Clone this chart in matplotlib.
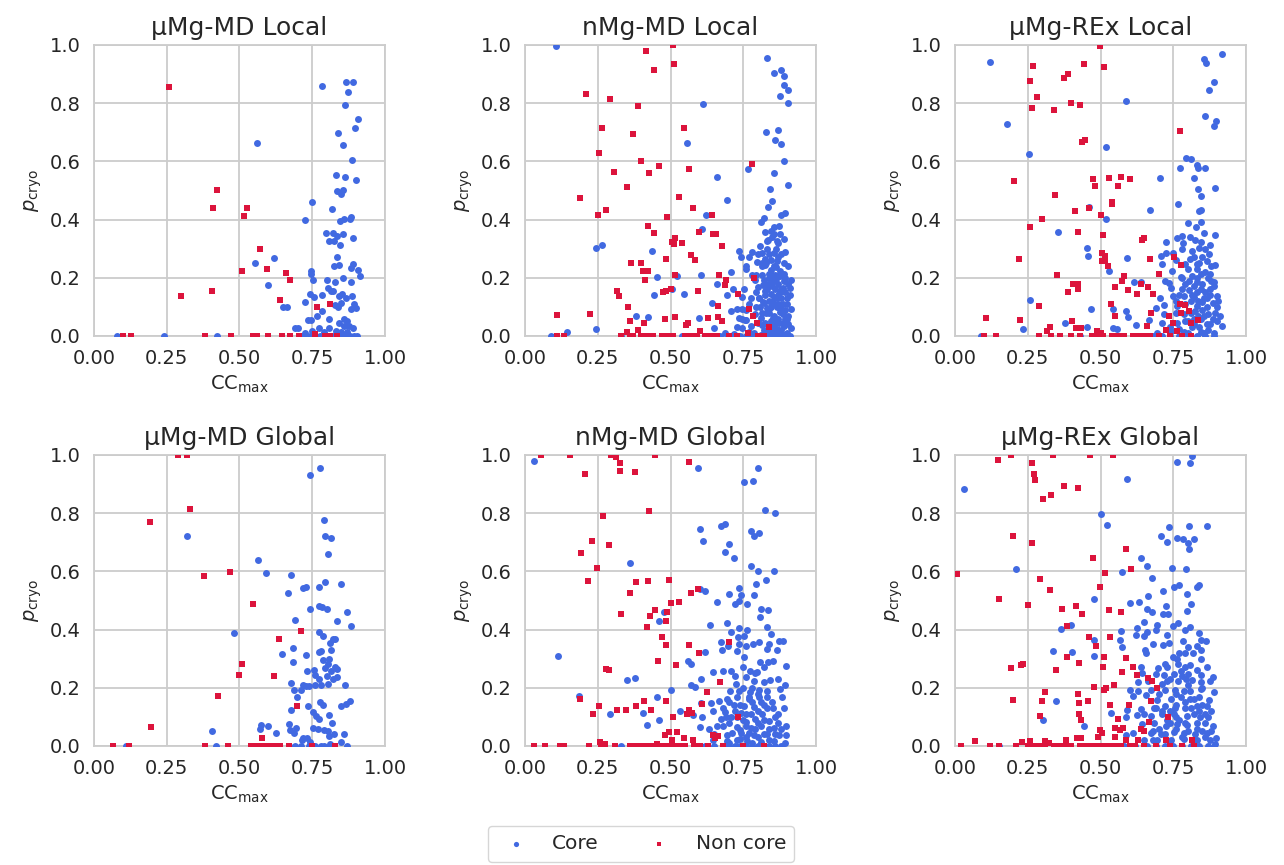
import matplotlib
matplotlib.use("Agg")
import matplotlib.pyplot as plt
import seaborn as sns

sns.set_theme(style="whitegrid")
plt.rcParams["font.family"] = ["DejaVu Sans"]

CORE_COLOR = "royalblue"
NON_COLOR = "crimson"

# ── data: (CC_max, p_cryo) pairs, *_floor = CC_max of points sitting on p_cryo = 0 ──

md_local_core = [
    (0.784, 0.860), (0.867, 0.872), (0.890, 0.872), (0.873, 0.840), (0.864, 0.794), (0.907, 0.745),
    (0.897, 0.716), (0.839, 0.697), (0.856, 0.657), (0.561, 0.664), (0.886, 0.606), (0.833, 0.552),
    (0.864, 0.548), (0.900, 0.537), (0.834, 0.499), (0.856, 0.500), (0.849, 0.489), (0.749, 0.462),
    (0.818, 0.438), (0.725, 0.399), (0.846, 0.395), (0.860, 0.401), (0.883, 0.408), (0.881, 0.401),
    (0.797, 0.354), (0.821, 0.353), (0.835, 0.345), (0.856, 0.351), (0.807, 0.328), (0.826, 0.328),
    (0.844, 0.313), (0.891, 0.336), (0.835, 0.272), (0.555, 0.252), (0.619, 0.269), (0.826, 0.241),
    (0.842, 0.243), (0.891, 0.249), (0.883, 0.232), (0.906, 0.226), (0.913, 0.207), (0.747, 0.224),
    (0.745, 0.213), (0.753, 0.192), (0.802, 0.192), (0.830, 0.185), (0.857, 0.200), (0.882, 0.184),
    (0.597, 0.175), (0.804, 0.164), (0.814, 0.155), (0.823, 0.155), (0.744, 0.144), (0.783, 0.140),
    (0.755, 0.134), (0.841, 0.136), (0.854, 0.144), (0.867, 0.130), (0.888, 0.138), (0.726, 0.117),
    (0.849, 0.114), (0.829, 0.107), (0.892, 0.109), (0.900, 0.095), (0.885, 0.091), (0.649, 0.101),
    (0.665, 0.098), (0.783, 0.085), (0.837, 0.098), (0.766, 0.067), (0.735, 0.056), (0.747, 0.055),
    (0.807, 0.057), (0.858, 0.060), (0.870, 0.052), (0.841, 0.045), (0.858, 0.034), (0.875, 0.034),
    (0.891, 0.026), (0.690, 0.026), (0.700, 0.029), (0.773, 0.026), (0.809, 0.026), (0.725, 0.010),
    (0.750, 0.017), (0.789, 0.015), (0.833, 0.017), (0.849, 0.015), (0.869, 0.013),
]
md_local_core_floor = [0.078, 0.239, 0.422, 0.72, 0.743, 0.76, 0.777, 0.80, 0.82, 0.84, 0.86, 0.869,
                       0.88, 0.892, 0.904]
md_local_non = [
    (0.258, 0.854), (0.422, 0.502), (0.408, 0.441), (0.526, 0.440), (0.517, 0.413), (0.571, 0.300),
    (0.510, 0.222), (0.594, 0.229), (0.661, 0.218), (0.672, 0.193), (0.300, 0.138), (0.405, 0.155),
    (0.641, 0.123), (0.768, 0.100), (0.812, 0.111), (0.758, 0.008),
]
md_local_non_floor = [0.101, 0.127, 0.380, 0.470, 0.548, 0.560, 0.597, 0.645, 0.674, 0.703, 0.795,
                      0.812, 0.835]

nmg_local_core = [
    (0.108, 0.997), (0.830, 0.956), (0.881, 0.913), (0.856, 0.902), (0.889, 0.892), (0.889, 0.861),
    (0.905, 0.847), (0.877, 0.823), (0.903, 0.802), (0.610, 0.798), (0.827, 0.700), (0.868, 0.707),
    (0.858, 0.675), (0.881, 0.660), (0.557, 0.662), (0.889, 0.600), (0.766, 0.574), (0.856, 0.560),
    (0.659, 0.548), (0.841, 0.506), (0.903, 0.520), (0.849, 0.464), (0.695, 0.466), (0.836, 0.443),
    (0.623, 0.417), (0.880, 0.417), (0.893, 0.424), (0.821, 0.405), (0.810, 0.390), (0.609, 0.366),
    (0.856, 0.376), (0.874, 0.378), (0.825, 0.357), (0.844, 0.362), (0.878, 0.351), (0.830, 0.328),
    (0.865, 0.328), (0.890, 0.334), (0.245, 0.302), (0.266, 0.314), (0.436, 0.293), (0.806, 0.310),
    (0.737, 0.293), (0.779, 0.287), (0.813, 0.286), (0.839, 0.282), (0.857, 0.285), (0.893, 0.290),
    (0.741, 0.270), (0.771, 0.270), (0.798, 0.255), (0.815, 0.252), (0.827, 0.252), (0.867, 0.259),
    (0.759, 0.231), (0.862, 0.236), (0.878, 0.224), (0.709, 0.220), (0.838, 0.213), (0.850, 0.207),
    (0.890, 0.213), (0.454, 0.202), (0.521, 0.205), (0.606, 0.208), (0.792, 0.191), (0.821, 0.192),
    (0.861, 0.195), (0.913, 0.194), (0.659, 0.178), (0.716, 0.163), (0.752, 0.160), (0.800, 0.167),
    (0.833, 0.161), (0.888, 0.166), (0.444, 0.140), (0.505, 0.161), (0.547, 0.144), (0.693, 0.140),
    (0.745, 0.134), (0.804, 0.130), (0.856, 0.134), (0.901, 0.132), (0.641, 0.114), (0.819, 0.116),
    (0.869, 0.109), (0.707, 0.086), (0.727, 0.094), (0.747, 0.092), (0.793, 0.098), (0.838, 0.092),
    (0.878, 0.084), (0.913, 0.092), (0.381, 0.068), (0.421, 0.066), (0.598, 0.063), (0.734, 0.061),
    (0.755, 0.054), (0.810, 0.063), (0.852, 0.061), (0.901, 0.057), (0.144, 0.015), (0.245, 0.023),
    (0.649, 0.026), (0.747, 0.029), (0.775, 0.034), (0.815, 0.038), (0.856, 0.029), (0.890, 0.034),
    (0.913, 0.029), (0.687, 0.011), (0.718, 0.008), (0.787, 0.011), (0.833, 0.015), (0.867, 0.008),
    (0.901, 0.010), (0.826, 0.245), (0.846, 0.225), (0.870, 0.180), (0.895, 0.150), (0.826, 0.140),
    (0.848, 0.118), (0.866, 0.100), (0.885, 0.075), (0.828, 0.078), (0.845, 0.050), (0.872, 0.045),
    (0.895, 0.060), (0.770, 0.110), (0.790, 0.075), (0.808, 0.100), (0.838, 0.120), (0.860, 0.160),
    (0.880, 0.130), (0.900, 0.110), (0.818, 0.175), (0.852, 0.190), (0.875, 0.205), (0.845, 0.260),
    (0.862, 0.300), (0.820, 0.020), (0.850, 0.012), (0.880, 0.020), (0.760, 0.055), (0.800, 0.045),
    (0.760, 0.240), (0.780, 0.210), (0.800, 0.280), (0.830, 0.300), (0.850, 0.340), (0.870, 0.270),
    (0.890, 0.250), (0.905, 0.180), (0.910, 0.140), (0.905, 0.070), (0.890, 0.005), (0.870, 0.060),
    (0.835, 0.180), (0.815, 0.210), (0.795, 0.150), (0.775, 0.130), (0.760, 0.090), (0.745, 0.060),
    (0.730, 0.030), (0.770, 0.015), (0.810, 0.005), (0.840, 0.080), (0.860, 0.110), (0.880, 0.160),
    (0.895, 0.200), (0.855, 0.240), (0.825, 0.265), (0.845, 0.145), (0.875, 0.095), (0.820, 0.115),
    (0.835, 0.010), (0.845, 0.030), (0.855, 0.070), (0.865, 0.130), (0.875, 0.150), (0.885, 0.110),
    (0.895, 0.090), (0.905, 0.040), (0.885, 0.045), (0.865, 0.025), (0.825, 0.045), (0.815, 0.080),
    (0.805, 0.130), (0.825, 0.155), (0.840, 0.200), (0.860, 0.210), (0.880, 0.280), (0.870, 0.320),
    (0.855, 0.350), (0.835, 0.330), (0.815, 0.240), (0.795, 0.210), (0.905, 0.240), (0.910, 0.165),
    (0.850, 0.170), (0.830, 0.095), (0.870, 0.140), (0.890, 0.190), (0.845, 0.100), (0.860, 0.045),
]
nmg_local_core_floor = [0.09, 0.33, 0.54, 0.56, 0.67, 0.70, 0.72, 0.74, 0.76, 0.78, 0.80, 0.82, 0.84,
                        0.86, 0.88, 0.90, 0.91]
nmg_local_non = [
    (0.508, 1.000), (0.416, 0.979), (0.513, 0.934), (0.443, 0.914), (0.210, 0.833), (0.292, 0.816),
    (0.389, 0.791), (0.263, 0.715), (0.545, 0.713), (0.372, 0.693), (0.253, 0.629), (0.399, 0.601),
    (0.459, 0.585), (0.306, 0.564), (0.427, 0.560), (0.563, 0.575), (0.780, 0.591), (0.349, 0.513),
    (0.190, 0.474), (0.529, 0.476), (0.280, 0.433), (0.251, 0.414), (0.577, 0.439), (0.489, 0.410),
    (0.644, 0.414), (0.423, 0.378), (0.442, 0.354), (0.516, 0.337), (0.505, 0.324), (0.511, 0.316),
    (0.540, 0.321), (0.599, 0.359), (0.647, 0.351), (0.656, 0.351), (0.678, 0.308), (0.571, 0.279),
    (0.584, 0.261), (0.484, 0.263), (0.365, 0.252), (0.398, 0.252), (0.405, 0.223), (0.421, 0.223),
    (0.412, 0.191), (0.516, 0.211), (0.665, 0.209), (0.692, 0.193), (0.686, 0.174), (0.787, 0.199),
    (0.317, 0.153), (0.323, 0.138), (0.475, 0.152), (0.484, 0.155), (0.503, 0.160), (0.596, 0.154),
    (0.731, 0.143), (0.353, 0.101), (0.663, 0.102), (0.771, 0.091), (0.111, 0.072), (0.225, 0.077),
    (0.360, 0.052), (0.408, 0.046), (0.482, 0.057), (0.517, 0.066), (0.630, 0.063), (0.663, 0.066),
    (0.678, 0.052), (0.782, 0.068), (0.796, 0.045), (0.838, 0.032), (0.553, 0.037), (0.560, 0.044),
    (0.388, 0.022), (0.350, 0.014), (0.600, 0.016), (0.766, 0.011),
]
nmg_local_non_floor = [0.11, 0.135, 0.33, 0.36, 0.37, 0.40, 0.42, 0.44, 0.47, 0.49, 0.50, 0.51, 0.55,
                       0.57, 0.59, 0.62, 0.64, 0.66, 0.70, 0.73, 0.80, 0.82]

rex_local_core = [
    (0.119, 0.940), (0.916, 0.968), (0.855, 0.952), (0.862, 0.939), (0.889, 0.872), (0.874, 0.844),
    (0.587, 0.809), (0.180, 0.730), (0.860, 0.756), (0.896, 0.740), (0.889, 0.721), (0.518, 0.649),
    (0.253, 0.626), (0.795, 0.611), (0.811, 0.608), (0.833, 0.586), (0.772, 0.576), (0.860, 0.576),
    (0.836, 0.578), (0.704, 0.544), (0.821, 0.544), (0.834, 0.505), (0.893, 0.508), (0.845, 0.482),
    (0.460, 0.444), (0.767, 0.453), (0.671, 0.434), (0.837, 0.428), (0.844, 0.433), (0.519, 0.402),
    (0.800, 0.389), (0.847, 0.392), (0.828, 0.376), (0.353, 0.357), (0.764, 0.336), (0.779, 0.345),
    (0.808, 0.341), (0.857, 0.355), (0.893, 0.346), (0.724, 0.322), (0.782, 0.318), (0.826, 0.330),
    (0.844, 0.324), (0.878, 0.314), (0.453, 0.301), (0.458, 0.276), (0.590, 0.269), (0.709, 0.276),
    (0.726, 0.286), (0.748, 0.286), (0.815, 0.291), (0.840, 0.302), (0.872, 0.282), (0.712, 0.247),
    (0.746, 0.224), (0.791, 0.247), (0.809, 0.264), (0.832, 0.249), (0.866, 0.259), (0.895, 0.245),
    (0.528, 0.224), (0.723, 0.190), (0.776, 0.201), (0.813, 0.207), (0.844, 0.213), (0.878, 0.213),
    (0.615, 0.186), (0.640, 0.186), (0.737, 0.182), (0.792, 0.177), (0.832, 0.184), (0.889, 0.186),
    (0.743, 0.166), (0.805, 0.157), (0.844, 0.161), (0.878, 0.161), (0.706, 0.131), (0.748, 0.137),
    (0.787, 0.138), (0.821, 0.134), (0.866, 0.132), (0.901, 0.138), (0.258, 0.124), (0.466, 0.094),
    (0.543, 0.091), (0.589, 0.086), (0.691, 0.097), (0.718, 0.107), (0.764, 0.103), (0.832, 0.103),
    (0.866, 0.098), (0.901, 0.098), (0.595, 0.066), (0.666, 0.054), (0.718, 0.075), (0.787, 0.075),
    (0.855, 0.069), (0.912, 0.069), (0.379, 0.043), (0.453, 0.032), (0.623, 0.038), (0.712, 0.046),
    (0.764, 0.043), (0.821, 0.040), (0.878, 0.040), (0.919, 0.033), (0.232, 0.023), (0.544, 0.029),
    (0.556, 0.025), (0.695, 0.011), (0.741, 0.017), (0.787, 0.015), (0.844, 0.015), (0.889, 0.011),
    (0.810, 0.120), (0.850, 0.118), (0.885, 0.115), (0.825, 0.085), (0.845, 0.060), (0.870, 0.075),
    (0.800, 0.050), (0.840, 0.030), (0.860, 0.150), (0.820, 0.170), (0.780, 0.160), (0.760, 0.120),
    (0.800, 0.230), (0.850, 0.270), (0.880, 0.190), (0.830, 0.230), (0.760, 0.260), (0.780, 0.300),
    (0.770, 0.140), (0.790, 0.110), (0.810, 0.080), (0.830, 0.150), (0.850, 0.180), (0.870, 0.200),
    (0.890, 0.170), (0.905, 0.120), (0.900, 0.050), (0.870, 0.020), (0.850, 0.090), (0.820, 0.060),
    (0.800, 0.010), (0.760, 0.080), (0.740, 0.030), (0.780, 0.200), (0.820, 0.270), (0.860, 0.300),
    (0.880, 0.240), (0.840, 0.250), (0.815, 0.140), (0.835, 0.120), (0.855, 0.130), (0.875, 0.140),
    (0.895, 0.080), (0.865, 0.040), (0.835, 0.070), (0.815, 0.030), (0.855, 0.010), (0.885, 0.060),
    (0.805, 0.190), (0.860, 0.220), (0.830, 0.200), (0.790, 0.050), (0.770, 0.025),
]
rex_local_core_floor = [0.09, 0.43, 0.63, 0.68, 0.71, 0.74, 0.77, 0.80, 0.83, 0.86, 0.89]
rex_local_non = [
    (0.497, 0.998), (0.269, 0.929), (0.444, 0.933), (0.513, 0.926), (0.259, 0.875), (0.374, 0.887),
    (0.389, 0.899), (0.281, 0.820), (0.266, 0.784), (0.339, 0.775), (0.397, 0.799), (0.429, 0.793),
    (0.774, 0.706), (0.435, 0.666), (0.447, 0.675), (0.203, 0.534), (0.475, 0.539), (0.480, 0.516),
    (0.529, 0.544), (0.572, 0.546), (0.603, 0.541), (0.561, 0.514), (0.342, 0.486), (0.538, 0.460),
    (0.538, 0.452), (0.460, 0.439), (0.411, 0.430), (0.500, 0.414), (0.299, 0.402), (0.256, 0.376),
    (0.421, 0.357), (0.509, 0.346), (0.642, 0.330), (0.651, 0.338), (0.506, 0.286), (0.514, 0.276),
    (0.505, 0.259), (0.517, 0.259), (0.526, 0.239), (0.671, 0.264), (0.751, 0.272), (0.775, 0.243),
    (0.221, 0.264), (0.349, 0.209), (0.582, 0.206), (0.573, 0.189), (0.701, 0.213), (0.405, 0.177),
    (0.421, 0.177), (0.423, 0.162), (0.388, 0.151), (0.551, 0.168), (0.594, 0.159), (0.638, 0.180),
    (0.664, 0.167), (0.627, 0.144), (0.681, 0.144), (0.289, 0.102), (0.535, 0.109), (0.551, 0.069),
    (0.772, 0.109), (0.791, 0.106), (0.776, 0.080), (0.805, 0.086), (0.736, 0.068), (0.750, 0.045),
    (0.834, 0.054), (0.812, 0.043), (0.675, 0.080), (0.108, 0.061), (0.223, 0.055), (0.401, 0.052),
    (0.325, 0.032), (0.316, 0.017), (0.416, 0.026), (0.433, 0.026), (0.659, 0.034), (0.726, 0.020),
    (0.763, 0.017), (0.487, 0.017), (0.502, 0.010),
]
rex_local_non_floor = [0.10, 0.14, 0.29, 0.33, 0.36, 0.40, 0.43, 0.47, 0.49, 0.51, 0.54, 0.56, 0.58,
                       0.61, 0.63, 0.65, 0.67, 0.70, 0.74, 0.78, 0.81]

md_global_core = [
    (0.778, 0.957), (0.742, 0.930), (0.791, 0.778), (0.795, 0.722), (0.815, 0.716), (0.805, 0.661),
    (0.318, 0.720), (0.563, 0.639), (0.592, 0.593), (0.678, 0.589), (0.794, 0.563), (0.775, 0.548),
    (0.850, 0.555), (0.717, 0.543), (0.728, 0.546), (0.666, 0.524), (0.741, 0.471), (0.774, 0.482),
    (0.783, 0.477), (0.800, 0.472), (0.868, 0.462), (0.690, 0.433), (0.835, 0.430), (0.884, 0.413),
    (0.481, 0.389), (0.774, 0.393), (0.788, 0.379), (0.821, 0.367), (0.830, 0.368), (0.810, 0.353),
    (0.683, 0.336), (0.646, 0.317), (0.772, 0.322), (0.781, 0.326), (0.814, 0.330), (0.729, 0.311),
    (0.683, 0.290), (0.788, 0.297), (0.808, 0.298), (0.806, 0.282), (0.794, 0.268), (0.830, 0.270),
    (0.835, 0.264), (0.814, 0.257), (0.757, 0.262), (0.733, 0.259), (0.761, 0.243), (0.773, 0.231),
    (0.800, 0.241), (0.822, 0.229), (0.835, 0.236), (0.677, 0.215), (0.720, 0.208), (0.729, 0.205),
    (0.740, 0.205), (0.760, 0.208), (0.779, 0.208), (0.805, 0.214), (0.861, 0.210), (0.689, 0.194),
    (0.710, 0.193), (0.697, 0.170), (0.778, 0.151), (0.786, 0.141), (0.737, 0.137), (0.849, 0.139),
    (0.867, 0.144), (0.881, 0.155), (0.678, 0.125), (0.753, 0.118), (0.763, 0.103), (0.774, 0.094),
    (0.807, 0.106), (0.669, 0.077), (0.819, 0.079), (0.573, 0.071), (0.569, 0.057), (0.597, 0.068),
    (0.674, 0.056), (0.696, 0.062), (0.752, 0.062), (0.771, 0.057), (0.789, 0.054), (0.806, 0.052),
    (0.405, 0.052), (0.624, 0.046), (0.689, 0.043), (0.807, 0.034), (0.826, 0.040), (0.860, 0.040),
    (0.720, 0.029), (0.732, 0.026), (0.714, 0.020), (0.743, 0.015), (0.849, 0.015), (0.812, 0.008),
]
md_global_core_floor = [0.11, 0.42, 0.55, 0.60, 0.63, 0.67, 0.69, 0.71, 0.74, 0.76, 0.78, 0.79, 0.81,
                        0.82, 0.87]
md_global_non = [
    (0.289, 1.000), (0.318, 1.000), (0.329, 0.815), (0.192, 0.769), (0.377, 0.584), (0.467, 0.599),
    (0.546, 0.487), (0.712, 0.395), (0.636, 0.366), (0.508, 0.280), (0.499, 0.244), (0.620, 0.240),
    (0.427, 0.171), (0.698, 0.137), (0.196, 0.064), (0.576, 0.029),
]
md_global_non_floor = [0.067, 0.12, 0.38, 0.46, 0.54, 0.56, 0.58, 0.60, 0.62, 0.64, 0.67, 0.75, 0.83]

nmg_global_core = [
    (0.032, 0.980), (0.596, 0.957), (0.802, 0.957), (0.753, 0.906), (0.784, 0.910), (0.826, 0.810),
    (0.858, 0.801), (0.673, 0.755), (0.688, 0.762), (0.603, 0.744), (0.776, 0.740), (0.805, 0.733),
    (0.786, 0.721), (0.610, 0.705), (0.702, 0.693), (0.686, 0.666), (0.717, 0.645), (0.360, 0.629),
    (0.776, 0.617), (0.800, 0.600), (0.854, 0.603), (0.829, 0.570), (0.795, 0.556), (0.737, 0.544),
    (0.603, 0.539), (0.620, 0.531), (0.700, 0.523), (0.742, 0.518), (0.788, 0.518), (0.661, 0.494),
    (0.723, 0.487), (0.736, 0.497), (0.764, 0.489), (0.810, 0.471), (0.834, 0.466), (0.806, 0.443),
    (0.479, 0.462), (0.459, 0.429), (0.635, 0.416), (0.694, 0.423), (0.735, 0.406), (0.763, 0.400),
    (0.830, 0.410), (0.708, 0.390), (0.847, 0.386), (0.731, 0.374), (0.752, 0.379), (0.673, 0.356),
    (0.698, 0.345), (0.737, 0.351), (0.759, 0.343), (0.784, 0.351), (0.804, 0.359), (0.838, 0.351),
    (0.873, 0.362), (0.887, 0.360), (0.831, 0.332), (0.866, 0.330), (0.115, 0.310), (0.677, 0.329),
    (0.729, 0.326), (0.620, 0.323), (0.560, 0.293), (0.570, 0.282), (0.751, 0.305), (0.808, 0.289),
    (0.836, 0.289), (0.853, 0.293), (0.897, 0.276), (0.645, 0.254), (0.679, 0.256), (0.709, 0.259),
    (0.748, 0.270), (0.773, 0.259), (0.798, 0.255), (0.821, 0.270), (0.759, 0.236), (0.787, 0.224),
    (0.843, 0.226), (0.350, 0.226), (0.378, 0.232), (0.604, 0.229), (0.571, 0.210), (0.583, 0.203),
    (0.724, 0.213), (0.895, 0.210), (0.877, 0.197), (0.502, 0.193), (0.704, 0.190), (0.737, 0.190),
    (0.773, 0.184), (0.804, 0.192), (0.833, 0.190), (0.186, 0.172), (0.455, 0.167), (0.665, 0.155),
    (0.695, 0.161), (0.729, 0.167), (0.770, 0.161), (0.803, 0.167), (0.882, 0.169), (0.604, 0.149),
    (0.639, 0.146), (0.718, 0.141), (0.752, 0.138), (0.787, 0.134), (0.821, 0.141), (0.851, 0.130),
    (0.891, 0.129), (0.404, 0.114), (0.534, 0.121), (0.576, 0.107), (0.646, 0.121), (0.688, 0.118),
    (0.741, 0.115), (0.775, 0.109), (0.815, 0.109), (0.868, 0.109), (0.291, 0.109), (0.459, 0.090),
    (0.609, 0.098), (0.672, 0.092), (0.709, 0.098), (0.758, 0.084), (0.792, 0.092), (0.838, 0.086),
    (0.871, 0.078), (0.419, 0.072), (0.601, 0.064), (0.633, 0.057), (0.680, 0.069), (0.729, 0.066),
    (0.775, 0.061), (0.810, 0.069), (0.856, 0.063), (0.898, 0.068), (0.649, 0.040), (0.695, 0.038),
    (0.741, 0.043), (0.787, 0.038), (0.833, 0.040), (0.873, 0.038), (0.898, 0.038), (0.646, 0.020),
    (0.695, 0.017), (0.729, 0.022), (0.764, 0.017), (0.810, 0.015), (0.856, 0.017), (0.893, 0.011),
    (0.720, 0.120), (0.750, 0.090), (0.790, 0.060), (0.820, 0.040), (0.700, 0.080), (0.760, 0.030),
    (0.850, 0.150), (0.800, 0.120), (0.740, 0.140), (0.690, 0.100), (0.780, 0.200), (0.820, 0.220),
    (0.700, 0.150), (0.730, 0.100), (0.760, 0.070), (0.780, 0.150), (0.800, 0.180), (0.830, 0.130),
    (0.860, 0.100), (0.880, 0.060), (0.840, 0.020), (0.800, 0.030), (0.770, 0.045), (0.740, 0.025),
    (0.710, 0.045), (0.680, 0.130), (0.660, 0.070), (0.750, 0.200), (0.790, 0.250), (0.830, 0.170),
    (0.870, 0.230), (0.720, 0.240), (0.760, 0.110), (0.800, 0.080), (0.840, 0.060), (0.820, 0.090),
    (0.780, 0.010), (0.740, 0.055), (0.700, 0.010), (0.860, 0.040), (0.810, 0.150), (0.770, 0.170),
]
nmg_global_core_floor = [0.33, 0.45, 0.62, 0.65, 0.68, 0.70, 0.72, 0.74, 0.76, 0.78, 0.80, 0.82, 0.84,
                         0.86, 0.88]
nmg_global_non = [
    (0.055, 1.000), (0.154, 1.000), (0.294, 1.000), (0.314, 0.994), (0.447, 1.000), (0.328, 0.972),
    (0.562, 0.975), (0.326, 0.945), (0.377, 0.940), (0.206, 0.933), (0.425, 0.809), (0.269, 0.792),
    (0.229, 0.703), (0.288, 0.689), (0.192, 0.662), (0.248, 0.611), (0.217, 0.567), (0.381, 0.564),
    (0.423, 0.568), (0.495, 0.571), (0.362, 0.525), (0.501, 0.492), (0.528, 0.495), (0.569, 0.525),
    (0.594, 0.539), (0.445, 0.469), (0.487, 0.462), (0.430, 0.447), (0.486, 0.431), (0.331, 0.455),
    (0.419, 0.410), (0.470, 0.374), (0.483, 0.347), (0.563, 0.348), (0.599, 0.318), (0.700, 0.357),
    (0.458, 0.291), (0.518, 0.277), (0.278, 0.266), (0.289, 0.261), (0.670, 0.220), (0.626, 0.187),
    (0.188, 0.160), (0.255, 0.136), (0.233, 0.110), (0.315, 0.122), (0.348, 0.125), (0.381, 0.137),
    (0.408, 0.153), (0.434, 0.125), (0.485, 0.155), (0.507, 0.101), (0.565, 0.124), (0.573, 0.114),
    (0.557, 0.111), (0.609, 0.144), (0.733, 0.101), (0.495, 0.049), (0.522, 0.048), (0.482, 0.038),
    (0.545, 0.029), (0.506, 0.022), (0.577, 0.022), (0.646, 0.038), (0.652, 0.029), (0.663, 0.033),
    (0.259, 0.015), (0.276, 0.008), (0.452, 0.008),
]
nmg_global_non_floor = [0.03, 0.07, 0.12, 0.135, 0.22, 0.26, 0.31, 0.36, 0.38, 0.40, 0.42, 0.44, 0.47,
                        0.49, 0.51, 0.53, 0.55, 0.58, 0.60, 0.63, 0.68, 0.75, 0.82]

rex_global_core = [
    (0.030, 0.883), (0.814, 0.998), (0.764, 0.975), (0.806, 0.971), (0.590, 0.916), (0.501, 0.797),
    (0.524, 0.759), (0.736, 0.751), (0.804, 0.756), (0.866, 0.757), (0.708, 0.721), (0.764, 0.714),
    (0.782, 0.713), (0.822, 0.713), (0.728, 0.700), (0.801, 0.698), (0.805, 0.678), (0.639, 0.647),
    (0.660, 0.618), (0.744, 0.611), (0.793, 0.609), (0.209, 0.607), (0.573, 0.598), (0.678, 0.577),
    (0.752, 0.546), (0.771, 0.553), (0.831, 0.545), (0.839, 0.553), (0.716, 0.534), (0.797, 0.523),
    (0.664, 0.516), (0.479, 0.506), (0.631, 0.494), (0.601, 0.490), (0.812, 0.489), (0.660, 0.471),
    (0.676, 0.461), (0.726, 0.482), (0.797, 0.464), (0.716, 0.453), (0.733, 0.452), (0.648, 0.425),
    (0.695, 0.417), (0.748, 0.414), (0.765, 0.424), (0.807, 0.409), (0.365, 0.403), (0.400, 0.415),
    (0.572, 0.395), (0.626, 0.407), (0.661, 0.393), (0.689, 0.400), (0.790, 0.397), (0.840, 0.387),
    (0.622, 0.380), (0.648, 0.378), (0.729, 0.380), (0.479, 0.364), (0.566, 0.364), (0.573, 0.339),
    (0.682, 0.351), (0.716, 0.346), (0.737, 0.353), (0.784, 0.360), (0.847, 0.364), (0.863, 0.362),
    (0.832, 0.345), (0.844, 0.330), (0.653, 0.330), (0.656, 0.318), (0.336, 0.328), (0.402, 0.323),
    (0.479, 0.308), (0.748, 0.305), (0.764, 0.298), (0.792, 0.318), (0.818, 0.320), (0.847, 0.300),
    (0.638, 0.270), (0.697, 0.267), (0.729, 0.270), (0.768, 0.282), (0.790, 0.270), (0.809, 0.278),
    (0.866, 0.270), (0.644, 0.252), (0.691, 0.247), (0.719, 0.244), (0.752, 0.247), (0.778, 0.259),
    (0.802, 0.249), (0.815, 0.226), (0.847, 0.243), (0.887, 0.238), (0.628, 0.220), (0.664, 0.224),
    (0.711, 0.213), (0.730, 0.222), (0.766, 0.224), (0.794, 0.230), (0.847, 0.221), (0.878, 0.224),
    (0.603, 0.192), (0.630, 0.190), (0.672, 0.192), (0.720, 0.193), (0.755, 0.192), (0.787, 0.190),
    (0.809, 0.190), (0.844, 0.195), (0.890, 0.187), (0.348, 0.156), (0.612, 0.172), (0.656, 0.176),
    (0.695, 0.157), (0.741, 0.160), (0.775, 0.167), (0.809, 0.161), (0.873, 0.157), (0.590, 0.124),
    (0.638, 0.126), (0.684, 0.132), (0.721, 0.137), (0.757, 0.130), (0.789, 0.132), (0.832, 0.137),
    (0.866, 0.137), (0.535, 0.115), (0.587, 0.101), (0.627, 0.107), (0.673, 0.103), (0.712, 0.111),
    (0.752, 0.109), (0.798, 0.103), (0.841, 0.098), (0.858, 0.109), (0.303, 0.089), (0.442, 0.068),
    (0.644, 0.077), (0.684, 0.080), (0.724, 0.069), (0.764, 0.075), (0.796, 0.071), (0.832, 0.078),
    (0.886, 0.069), (0.588, 0.038), (0.613, 0.043), (0.672, 0.046), (0.707, 0.040), (0.752, 0.049),
    (0.787, 0.046), (0.826, 0.040), (0.866, 0.043), (0.897, 0.026), (0.650, 0.020), (0.695, 0.022),
    (0.741, 0.020), (0.787, 0.023), (0.832, 0.020), (0.876, 0.020), (0.895, 0.008),
    (0.740, 0.120), (0.770, 0.090), (0.810, 0.130), (0.830, 0.060), (0.860, 0.080), (0.700, 0.060),
    (0.760, 0.180), (0.820, 0.160), (0.780, 0.240), (0.850, 0.200), (0.720, 0.280), (0.880, 0.120),
    (0.690, 0.130), (0.730, 0.090), (0.760, 0.140), (0.790, 0.080), (0.820, 0.110), (0.850, 0.050),
    (0.870, 0.100), (0.840, 0.170), (0.800, 0.210), (0.760, 0.060), (0.720, 0.040), (0.680, 0.050),
    (0.650, 0.110), (0.700, 0.180), (0.780, 0.030), (0.880, 0.050), (0.830, 0.260), (0.740, 0.230),
    (0.770, 0.320), (0.800, 0.340), (0.760, 0.100), (0.800, 0.050), (0.840, 0.120), (0.860, 0.030),
    (0.820, 0.020), (0.790, 0.150), (0.740, 0.080), (0.710, 0.120), (0.680, 0.020), (0.850, 0.140),
]
rex_global_core_floor = [0.15, 0.43, 0.46, 0.58, 0.62, 0.66, 0.69, 0.72, 0.75, 0.78, 0.81, 0.84, 0.87,
                         0.89]
rex_global_non = [
    (0.148, 0.984), (0.194, 1.000), (0.336, 1.000), (0.465, 1.000), (0.543, 1.000), (0.265, 0.972),
    (0.271, 0.933), (0.274, 0.915), (0.374, 0.893), (0.330, 0.861), (0.303, 0.848), (0.424, 0.886),
    (0.199, 0.720), (0.265, 0.698), (0.587, 0.677), (0.474, 0.647), (0.606, 0.607), (0.007, 0.592),
    (0.515, 0.595), (0.292, 0.574), (0.497, 0.548), (0.326, 0.536), (0.152, 0.505), (0.250, 0.485),
    (0.416, 0.482), (0.368, 0.471), (0.436, 0.453), (0.528, 0.469), (0.570, 0.461), (0.384, 0.411),
    (0.462, 0.375), (0.486, 0.345), (0.533, 0.376), (0.384, 0.305), (0.427, 0.286), (0.513, 0.306),
    (0.587, 0.301), (0.509, 0.271), (0.193, 0.267), (0.225, 0.278), (0.234, 0.282), (0.346, 0.260),
    (0.574, 0.253), (0.612, 0.270), (0.624, 0.244), (0.664, 0.232), (0.678, 0.224), (0.477, 0.203),
    (0.513, 0.193), (0.518, 0.199), (0.545, 0.209), (0.695, 0.199), (0.310, 0.186), (0.200, 0.157),
    (0.298, 0.155), (0.424, 0.177), (0.425, 0.149), (0.458, 0.156), (0.599, 0.140), (0.673, 0.154),
    (0.532, 0.140), (0.291, 0.102), (0.426, 0.109), (0.433, 0.089), (0.559, 0.091), (0.732, 0.098),
    (0.667, 0.082), (0.577, 0.061), (0.549, 0.063), (0.568, 0.054), (0.497, 0.054), (0.493, 0.032),
    (0.506, 0.045), (0.638, 0.057), (0.650, 0.052), (0.815, 0.022), (0.067, 0.017), (0.229, 0.015),
    (0.256, 0.017), (0.309, 0.017), (0.322, 0.011), (0.381, 0.021), (0.419, 0.026), (0.433, 0.026),
    (0.549, 0.031), (0.586, 0.020), (0.629, 0.020), (0.725, 0.020),
]
rex_global_non_floor = [0.02, 0.12, 0.15, 0.21, 0.25, 0.27, 0.29, 0.31, 0.34, 0.36, 0.38, 0.40, 0.43,
                        0.45, 0.47, 0.49, 0.51, 0.53, 0.55, 0.57, 0.60, 0.62, 0.65, 0.69, 0.74, 0.78,
                        0.82]

PANELS = [
    ("μMg-MD Local", md_local_core, md_local_core_floor, md_local_non, md_local_non_floor),
    ("nMg-MD Local", nmg_local_core, nmg_local_core_floor, nmg_local_non, nmg_local_non_floor),
    ("μMg-REx Local", rex_local_core, rex_local_core_floor, rex_local_non, rex_local_non_floor),
    ("μMg-MD Global", md_global_core, md_global_core_floor, md_global_non, md_global_non_floor),
    ("nMg-MD Global", nmg_global_core, nmg_global_core_floor, nmg_global_non, nmg_global_non_floor),
    ("μMg-REx Global", rex_global_core, rex_global_core_floor, rex_global_non, rex_global_non_floor),
]


def _xy(pairs, floor):
    xs = [p[0] for p in pairs] + list(floor)
    ys = [p[1] for p in pairs] + [0.0] * len(floor)
    return xs, ys


fig = plt.figure(figsize=(12.84, 8.65), dpi=100)
lefts = [0.0732, 0.4089, 0.7438]
bottoms = [0.6116, 0.1376]
W, H = 0.2266, 0.3364

for i, (title, core, core_floor, non, non_floor) in enumerate(PANELS):
    ax = fig.add_axes([lefts[i % 3], bottoms[i // 3], W, H])
    cx, cy = _xy(core, core_floor)
    nx, ny = _xy(non, non_floor)
    ax.scatter(cx, cy, s=25, marker="o", color=CORE_COLOR, linewidths=0, label="Core", zorder=3)
    ax.scatter(nx, ny, s=17, marker="s", color=NON_COLOR, linewidths=0, label="Non core", zorder=3)
    ax.set_xlim(0, 1)
    ax.set_ylim(0, 1)
    ax.set_xticks([0, 0.25, 0.5, 0.75, 1.0])
    ax.set_xticklabels(["0.00", "0.25", "0.50", "0.75", "1.00"])
    ax.set_yticks([0, 0.2, 0.4, 0.6, 0.8, 1.0])
    ax.grid(True, color="#cccccc", linewidth=1.3)
    ax.tick_params(labelsize=14, colors="#262626")
    ax.set_title(title, fontsize=18, color="#262626", pad=7)
    ax.set_xlabel(r"CC$_{\mathrm{max}}$", fontsize=14, color="#262626")
    ax.set_ylabel(r"$p_{\mathrm{cryo}}$", fontsize=14, color="#262626")
    for sp in ax.spines.values():
        sp.set_color("#cccccc")
        sp.set_linewidth(1.3)
    if i == 0:
        handles, labels = ax.get_legend_handles_labels()

fig.legend(handles, labels, loc="center", bbox_to_anchor=(0.4992, 0.0243), ncol=2,
           fontsize=14.5, frameon=True, edgecolor="#cccccc", markerscale=0.75)

fig.savefig("out.png", dpi=100)
